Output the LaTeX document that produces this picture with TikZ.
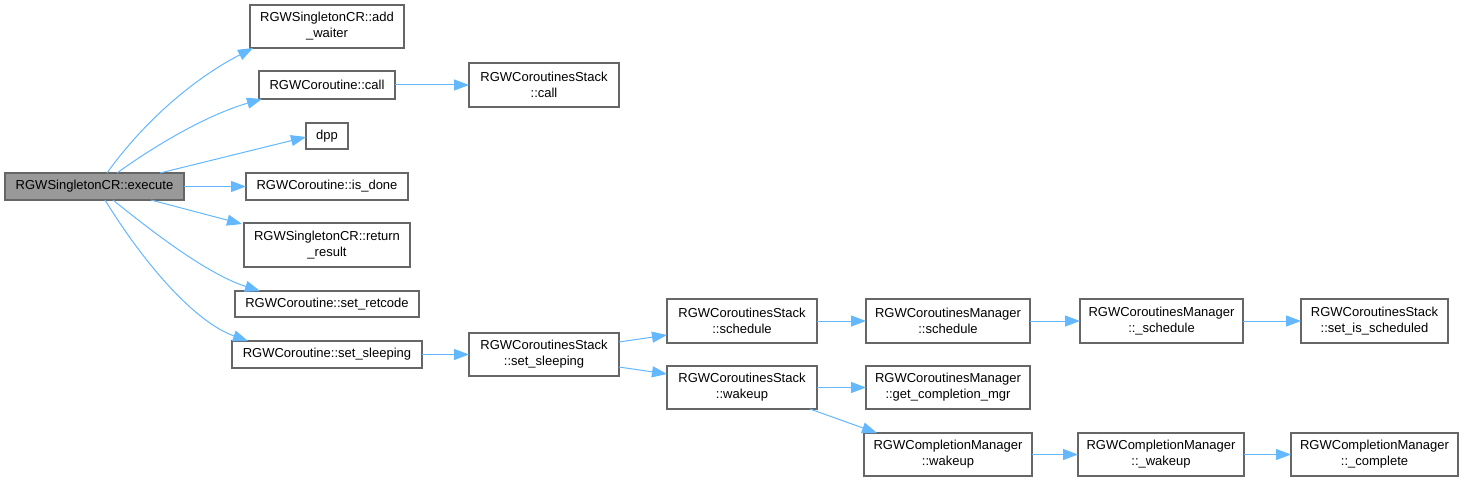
\documentclass[tikz,border=0pt]{standalone}
\usepackage{fontspec}
\setmainfont{Liberation Sans}
\usetikzlibrary{arrows.meta}
\definecolor{edgeblue}{HTML}{63B8FF}
\definecolor{boxborder}{HTML}{666666}
\definecolor{curfill}{HTML}{999999}
\begin{document}
\begin{tikzpicture}[x=1pt,y=-1pt,
  box/.style={draw=boxborder,line width=1.2pt,fill=white,inner sep=0pt,outer sep=0pt,
    align=center,font=\fontsize{13}{16}\selectfont},
  cur/.style={box,fill=curfill},
  edge/.style={draw=edgeblue,line width=1pt,-{Triangle[length=15pt,width=11pt]}}]
\useasboundingbox[fill=white] (0,0) rectangle (1471,481);
\node[cur,minimum width=179,minimum height=27] (exec) at (94.5,186.5) {RGWSingletonCR::execute};
\node[box,minimum width=154,minimum height=43] (aw) at (327,26.5) {RGWSingletonCR::add\\\_waiter};
\node[box,minimum width=136,minimum height=28] (call) at (327,85) {RGWCoroutine::call};
\node[box,minimum width=42,minimum height=26] (dpp) at (327,136) {dpp};
\node[box,minimum width=162,minimum height=27] (isdone) at (327,186.5) {RGWCoroutine::is\_done};
\node[box,minimum width=166,minimum height=44] (rr) at (327,245) {RGWSingletonCR::return\\\_result};
\node[box,minimum width=184,minimum height=26] (rc) at (327,304) {RGWCoroutine::set\_retcode};
\node[box,minimum width=190,minimum height=27] (ss) at (327,354.5) {RGWCoroutine::set\_sleeping};
\node[box,minimum width=150,minimum height=44] (scall) at (544,85) {RGWCoroutinesStack\\::call};
\node[box,minimum width=150,minimum height=43] (sss) at (544,354.5) {RGWCoroutinesStack\\::set\_sleeping};
\node[box,minimum width=150,minimum height=44] (ssch) at (742,321) {RGWCoroutinesStack\\::schedule};
\node[box,minimum width=150,minimum height=43] (swk) at (742,387.5) {RGWCoroutinesStack\\::wakeup};
\node[box,minimum width=164,minimum height=44] (msch) at (948,321) {RGWCoroutinesManager\\::schedule};
\node[box,minimum width=164,minimum height=43] (mgcm) at (948,387.5) {RGWCoroutinesManager\\::get\_completion\_mgr};
\node[box,minimum width=168,minimum height=43] (cmw) at (948,454.5) {RGWCompletionManager\\::wakeup};
\node[box,minimum width=163,minimum height=44] (m_sch) at (1161.5,321) {RGWCoroutinesManager\\::\_schedule};
\node[box,minimum width=147,minimum height=44] (sis) at (1374.5,321) {RGWCoroutinesStack\\::set\_is\_scheduled};
\node[box,minimum width=166,minimum height=43] (cm_wk) at (1161,454.5) {RGWCompletionManager\\::\_wakeup};
\node[box,minimum width=167,minimum height=43] (cmc) at (1374.5,454.5) {RGWCompletionManager\\::\_complete};

\draw[edge] ([xshift=102pt]exec.north west) .. controls (145,120) and (195,78) .. ([xshift=3pt]aw.south west);
\draw[edge] ([xshift=112pt]exec.north west) .. controls (160,142) and (210,114) .. ([xshift=3pt]call.south west);
\draw[edge] ([xshift=155pt]exec.north west) -- ([yshift=-1pt]dpp.west);
\draw[edge] (exec.east) -- (isdone.west);
\draw[edge] ([xshift=146pt]exec.south west) -- ([xshift=-2pt,yshift=-1pt]rr.north west);
\draw[edge] ([xshift=108pt]exec.south west) .. controls (160,238) and (210,275) .. ([xshift=25pt]rc.north west);
\draw[edge] ([xshift=100pt]exec.south west) .. controls (145,265) and (195,322) .. ([xshift=16pt]ss.north west);
\draw[edge] (call.east) -- (scall.west);
\draw[edge] (ss.east) -- (sss.west);
\draw[edge] ([yshift=12.5pt]sss.east) -- ([yshift=-14pt]ssch.west);
\draw[edge] ([yshift=-12.5pt]sss.east) -- ([yshift=13.5pt]swk.west);
\draw[edge] (ssch.east) -- (msch.west);
\draw[edge] (swk.east) -- (mgcm.west);
\draw[edge] ([xshift=-7pt]swk.south east) -- ([xshift=13pt]cmw.north west);
\draw[edge] (msch.east) -- (m_sch.west);
\draw[edge] (m_sch.east) -- (sis.west);
\draw[edge] (cmw.east) -- (cm_wk.west);
\draw[edge] (cm_wk.east) -- (cmc.west);
\end{tikzpicture}
\end{document}
